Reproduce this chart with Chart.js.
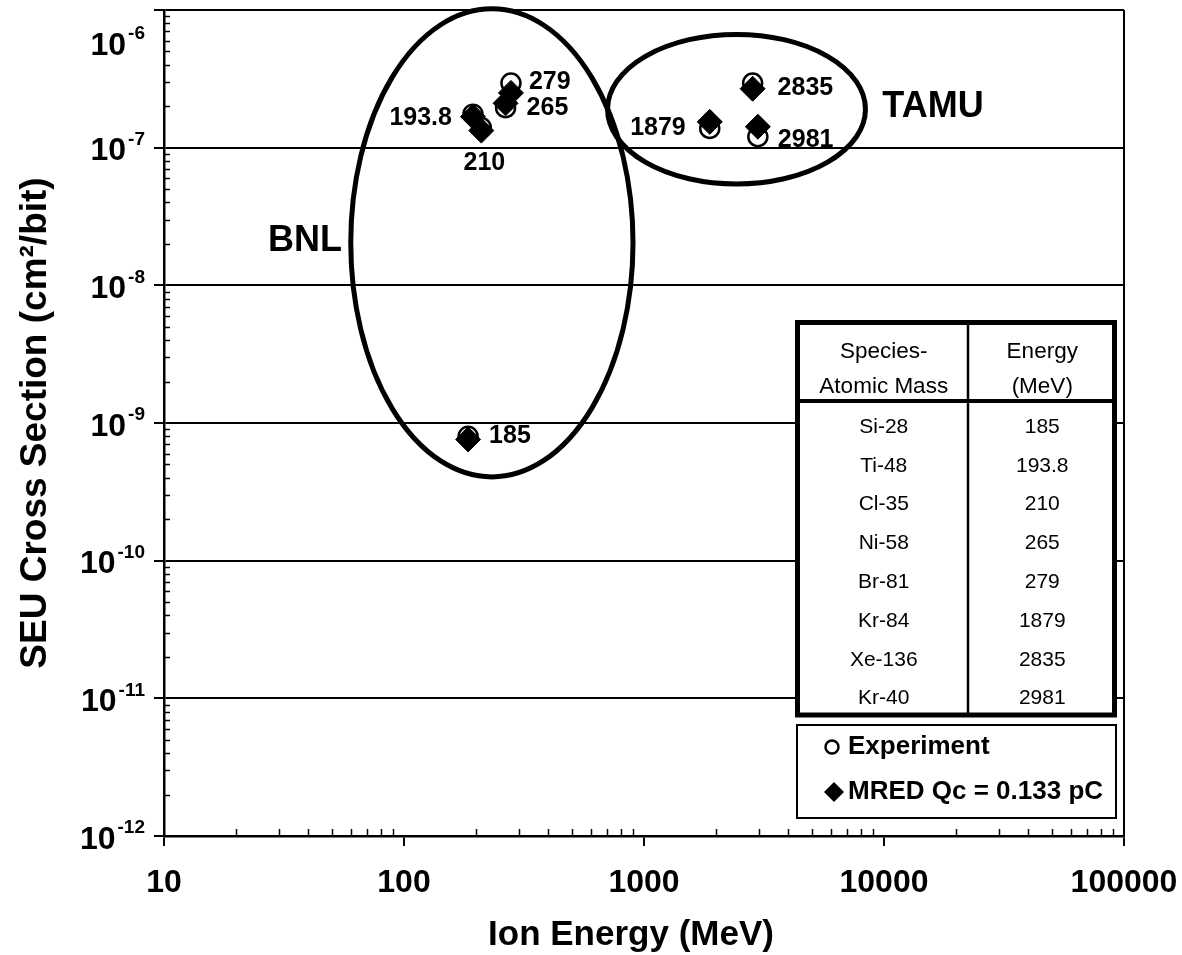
<!DOCTYPE html>
<html>
<head>
<meta charset="utf-8">
<title>SEU Cross Section vs Ion Energy</title>
<script src="https://cdn.jsdelivr.net/npm/chart.js@4.4.1/dist/chart.umd.min.js"></script>
<style>
  html, body { margin: 0; padding: 0; background: #fff; }
  canvas { display: block; }
</style>
</head>
<body>
<canvas id="seuChart" width="1182" height="955"></canvas>
<script>
// ion species and beam energies (MeV)
const species = ['Si-28', 'Ti-48', 'Cl-35', 'Ni-58', 'Br-81', 'Kr-84', 'Xe-136', 'Kr-40'];
const energies = [185, 193.8, 210, 265, 279, 1879, 2835, 2981];
const energyLabels = ['185', '193.8', '210', '265', '279', '1879', '2835', '2981'];

// SEU cross section (cm^2/bit)
const experiment = [8.0e-10, 1.75e-7, 1.4e-7, 1.95e-7, 2.95e-7, 1.38e-7, 2.95e-7, 1.2e-7];
const mred = [7.6e-10, 1.68e-7, 1.33e-7, 2.1e-7, 2.5e-7, 1.54e-7, 2.68e-7, 1.42e-7];

// axis tick labels
const xTickValues = [10, 100, 1000, 10000, 100000];
const yTickExponents = [-12, -11, -10, -9, -8, -7, -6];

// where each energy label sits next to its point (px offset, alignment)
const labelPlacement = [
    [21, -3, 'left'], [-21, 1, 'right'], [3, 32, 'center'], [21, 5, 'left'],
    [18, -11, 'left'], [-24, 6, 'right'], [25, -1, 'left'], [20, 13, 'left']
];

// facility groupings, bounding boxes in data units
const groups = [
    { name: 'BNL', x: [60, 900], y: [4.06e-10, 1.02e-6], text: [38.7, 2.1e-8] },
    { name: 'TAMU', x: [705, 8370], y: [5.44e-8, 6.65e-7], text: [16000, 1.98e-7] }
];

const FONT = '"Liberation Sans", Arial, sans-serif';

function isMajor(v) {
    const l = Math.log10(v);
    return Math.abs(l - Math.round(l)) < 1e-6;
}

function keepWholeMantissa(scale) {
    scale.ticks = scale.ticks.filter(t => {
        const m = t.value / Math.pow(10, Math.floor(Math.log10(t.value) + 1e-9));
        return Math.abs(m - Math.round(m)) < 1e-6;
    });
}

function drawText(ctx, str, x, y, font, align, baseline) {
    ctx.font = font;
    ctx.textAlign = align || 'center';
    ctx.textBaseline = baseline || 'middle';
    ctx.fillText(str, x, y);
}

const overlay = {
    id: 'overlay',
    beforeDatasetsDraw(chart) {
        const ctx = chart.ctx;
        const xs = chart.scales.x, ys = chart.scales.y;
        ctx.save();
        ctx.strokeStyle = '#000';
        ctx.lineWidth = 5;
        groups.forEach(g => {
            const x1 = xs.getPixelForValue(g.x[0]), x2 = xs.getPixelForValue(g.x[1]);
            const y1 = ys.getPixelForValue(g.y[0]), y2 = ys.getPixelForValue(g.y[1]);
            ctx.beginPath();
            ctx.ellipse((x1 + x2) / 2, (y1 + y2) / 2, Math.abs(x2 - x1) / 2, Math.abs(y2 - y1) / 2, 0, 0, Math.PI * 2);
            ctx.stroke();
        });
        ctx.restore();
    },
    afterDraw(chart) {
        const ctx = chart.ctx;
        const area = chart.chartArea;
        const xs = chart.scales.x, ys = chart.scales.y;
        ctx.save();
        ctx.fillStyle = '#000';
        ctx.strokeStyle = '#000';

        // right frame
        ctx.lineWidth = 2;
        ctx.beginPath();
        ctx.moveTo(area.right, area.top);
        ctx.lineTo(area.right, area.bottom);
        ctx.stroke();

        // minor ticks point inward
        ctx.lineWidth = 1.5;
        ys.ticks.forEach(t => {
            if (isMajor(t.value)) return;
            const py = Math.round(ys.getPixelForValue(t.value)) + 0.5;
            ctx.beginPath();
            ctx.moveTo(area.left, py);
            ctx.lineTo(area.left + 6, py);
            ctx.stroke();
        });
        xs.ticks.forEach(t => {
            if (isMajor(t.value)) return;
            const px = Math.round(xs.getPixelForValue(t.value)) + 0.5;
            ctx.beginPath();
            ctx.moveTo(px, area.bottom);
            ctx.lineTo(px, area.bottom - 7);
            ctx.stroke();
        });

        // y tick labels: 10 with superscript exponent
        yTickExponents.forEach(e => {
            const py = ys.getPixelForValue(Math.pow(10, e));
            const cy = Math.max(py + 4, area.top + 36);
            const right = area.left - 19;
            const expFont = 'bold 19px ' + FONT;
            ctx.font = expFont;
            const ew = ctx.measureText(String(e)).width;
            drawText(ctx, String(e), right, cy - 12, expFont, 'right');
            drawText(ctx, '10', right - ew - 2, cy, 'bold 32px ' + FONT, 'right');
        });

        // x tick labels
        xTickValues.forEach(v => {
            drawText(ctx, String(v), xs.getPixelForValue(v), area.bottom + 47, 'bold 32px ' + FONT, 'center');
        });

        // axis titles
        drawText(ctx, 'Ion Energy (MeV)', 631, 935, 'bold 35px ' + FONT, 'center');
        ctx.save();
        ctx.translate(36, 423);
        ctx.rotate(-Math.PI / 2);
        drawText(ctx, 'SEU Cross Section (cm\u00B2/bit)', 0, 0, 'bold 37px ' + FONT, 'center');
        ctx.restore();

        // group names
        groups.forEach(g => {
            drawText(ctx, g.name, xs.getPixelForValue(g.text[0]), ys.getPixelForValue(g.text[1]), 'bold 36px ' + FONT, 'center');
        });

        // energy labels beside the points
        const pts = chart.getDatasetMeta(1).data;
        energyLabels.forEach((lbl, i) => {
            const p = pts[i];
            const [dx, dy, align] = labelPlacement[i];
            drawText(ctx, lbl, p.x + dx, p.y + dy, 'bold 25px ' + FONT, align);
        });

        // species / energy table
        const tb = { left: 797.5, top: 322.5, right: 1114.5, bottom: 715, split: 968, head: 401 };
        ctx.fillStyle = '#fff';
        ctx.fillRect(tb.left, tb.top, tb.right - tb.left, tb.bottom - tb.top);
        ctx.fillStyle = '#000';
        ctx.lineWidth = 2.5;
        ctx.beginPath();
        ctx.moveTo(tb.split, tb.top);
        ctx.lineTo(tb.split, tb.bottom);
        ctx.stroke();
        ctx.lineWidth = 4;
        ctx.beginPath();
        ctx.moveTo(tb.left, tb.head);
        ctx.lineTo(tb.right, tb.head);
        ctx.stroke();
        ctx.lineWidth = 5;
        ctx.strokeRect(tb.left, tb.top, tb.right - tb.left, tb.bottom - tb.top);
        const c1 = (tb.left + tb.split) / 2 + 1, c2 = (tb.split + tb.right) / 2 + 1;
        const hf = '22.5px ' + FONT, rf = '21px ' + FONT;
        drawText(ctx, 'Species-', c1, 352, hf, 'center');
        drawText(ctx, 'Atomic Mass', c1, 387, hf, 'center');
        drawText(ctx, 'Energy', c2, 352, hf, 'center');
        drawText(ctx, '(MeV)', c2, 387, hf, 'center');
        species.forEach((s, i) => {
            const y = 427 + i * 38.8;
            drawText(ctx, s, c1, y, rf, 'center');
            drawText(ctx, energyLabels[i], c2, y, rf, 'center');
        });

        // legend box
        const lg = { left: 797, top: 725, right: 1116, bottom: 818 };
        ctx.fillStyle = '#fff';
        ctx.fillRect(lg.left, lg.top, lg.right - lg.left, lg.bottom - lg.top);
        ctx.lineWidth = 2;
        ctx.strokeRect(lg.left, lg.top, lg.right - lg.left, lg.bottom - lg.top);
        ctx.fillStyle = '#000';
        chart.data.datasets.forEach((ds, i) => {
            const y = i === 0 ? 747 : 792;
            ctx.beginPath();
            if (ds.pointStyle === 'circle') {
                ctx.lineWidth = 2.5;
                ctx.arc(832, y, 6.5, 0, Math.PI * 2);
                ctx.stroke();
            } else {
                ctx.moveTo(834, y - 10);
                ctx.lineTo(844, y);
                ctx.lineTo(834, y + 10);
                ctx.lineTo(824, y);
                ctx.closePath();
                ctx.fill();
            }
            drawText(ctx, ds.label, 848, y, 'bold 26px ' + FONT, 'left');
        });

        ctx.restore();
    }
};

const ctx = document.getElementById('seuChart').getContext('2d');
new Chart(ctx, {
    type: 'scatter',
    data: {
        datasets: [{
            label: 'Experiment',
            data: energies.map((e, i) => ({ x: e, y: experiment[i] })),
            pointStyle: 'circle',
            pointRadius: 9.5,
            backgroundColor: '#fff',
            borderColor: '#000',
            borderWidth: 2.5,
            order: 2
        }, {
            label: 'MRED Qc = 0.133 pC',
            data: energies.map((e, i) => ({ x: e, y: mred[i] })),
            pointStyle: 'rectRot',
            pointRadius: 12.5,
            backgroundColor: '#000',
            borderColor: '#000',
            borderWidth: 1,
            order: 1
        }]
    },
    options: {
        responsive: false,
        devicePixelRatio: 1,
        animation: false,
        layout: {
            autoPadding: false,
            padding: { left: 152, top: 10, right: 58, bottom: 107 }
        },
        plugins: {
            legend: { display: false },
            tooltip: { enabled: false }
        },
        scales: {
            x: {
                type: 'logarithmic',
                min: 10,
                max: 100000,
                afterBuildTicks: keepWholeMantissa,
                afterFit(scale) { scale.height = 12; },
                ticks: { display: false, autoSkip: false },
                border: { display: true, color: '#000', width: 2.5 },
                grid: {
                    drawOnChartArea: false,
                    drawTicks: true,
                    tickLength: 10,
                    lineWidth: 2,
                    tickColor: c => (c.tick && isMajor(c.tick.value)) ? '#000' : 'rgba(0,0,0,0)'
                }
            },
            y: {
                type: 'logarithmic',
                min: 1e-12,
                max: 1e-6,
                afterBuildTicks: keepWholeMantissa,
                afterFit(scale) { scale.width = 12; },
                ticks: { display: false, autoSkip: false },
                border: { display: true, color: '#000', width: 2.5 },
                grid: {
                    drawTicks: true,
                    tickLength: 10,
                    lineWidth: 2,
                    color: c => (c.tick && isMajor(c.tick.value)) ? '#000' : 'rgba(0,0,0,0)',
                    tickColor: c => (c.tick && isMajor(c.tick.value)) ? '#000' : 'rgba(0,0,0,0)'
                }
            }
        }
    },
    plugins: [overlay]
});
</script>
</body>
</html>
